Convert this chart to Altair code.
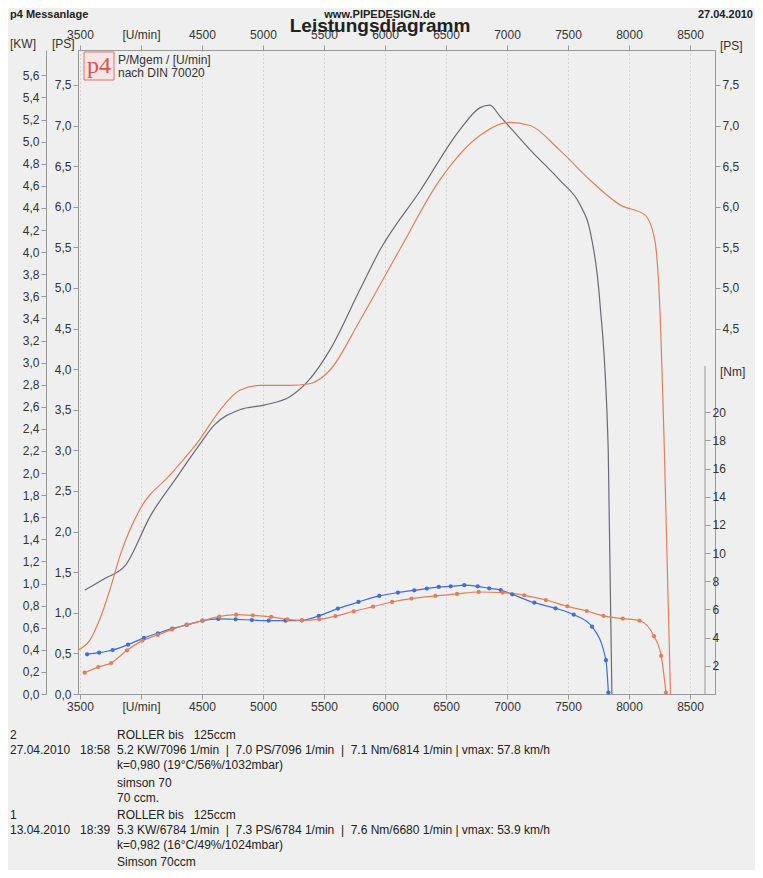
import altair as alt
import pandas as pd

# power curves (PS)
rpm_p1 = [3540, 3700, 3870, 4080, 4280, 4480, 4600, 4810, 5016, 5220, 5380, 5550, 5795, 5960, 6290, 6615,
          6780, 6860, 6940, 7190, 7430, 7600, 7680, 7760, 7830, 7860]
ps_p1 = [1.28, 1.42, 1.58, 2.2, 2.64, 3.07, 3.31, 3.5, 3.56, 3.66, 3.87, 4.24, 4.98, 5.47, 6.2, 6.95,
         7.22, 7.25, 7.12, 6.7, 6.33, 6.02, 5.71, 4.85, 3.0, 0.0]
rpm_p2 = [3484, 3580, 3660, 3745, 3830, 3990, 4240, 4480, 4650, 4810, 4975, 5220, 5380, 5550, 5795, 6120,
          6450, 6780, 7020, 7190, 7430, 7680, 7930, 8130, 8210, 8250, 8290, 8340]
ps_p2 = [0.54, 0.66, 0.91, 1.28, 1.71, 2.27, 2.7, 3.13, 3.5, 3.74, 3.8, 3.8, 3.82, 3.99, 4.6, 5.47,
         6.33, 6.88, 7.04, 7.0, 6.7, 6.33, 6.02, 5.9, 5.6, 4.85, 3.0, 0.0]

# torque curves (Nm)
rpm_t1 = [3559, 3657, 3768, 3894, 4024, 4138, 4256, 4374, 4504, 4634, 4776, 4909, 5047, 5185, 5319, 5457,
          5614, 5783, 5953, 6106, 6240, 6343, 6441, 6539, 6650, 6760, 6854, 6949, 7043, 7224, 7398, 7547,
          7697, 7811, 7831]
nm_t1 = [2.82, 2.93, 3.12, 3.5, 3.98, 4.31, 4.64, 4.9, 5.2, 5.33, 5.3, 5.25, 5.2, 5.2, 5.23, 5.54,
         6.06, 6.53, 6.96, 7.2, 7.36, 7.48, 7.6, 7.64, 7.72, 7.64, 7.5, 7.38, 7.07, 6.48, 6.08, 5.63,
         4.78, 2.4, 0.1]
rpm_t2 = [3539, 3650, 3756, 3886, 4012, 4138, 4256, 4378, 4504, 4642, 4780, 4917, 5067, 5201, 5319, 5461,
          5594, 5744, 5902, 6059, 6217, 6413, 6591, 6768, 6965, 7142, 7319, 7496, 7654, 7791, 7949, 8087,
          8205, 8264, 8303]
nm_t2 = [1.51, 1.91, 2.2, 3.1, 3.79, 4.19, 4.59, 4.92, 5.2, 5.49, 5.63, 5.58, 5.47, 5.3, 5.23, 5.3,
         5.52, 5.87, 6.2, 6.53, 6.77, 6.96, 7.1, 7.24, 7.2, 7.0, 6.67, 6.22, 5.89, 5.54, 5.35, 5.2,
         4.1, 2.7, 0.1]

ps_ticks = [i * 0.5 for i in range(16)]
kw_ticks = [round(i * 0.2, 1) for i in range(29)]
nm_ticks = list(range(2, 21, 2))
rpm_ticks = list(range(3500, 9000, 500))

GRAY, ORANGE, BLUE = "#6b6b78", "#e0805a", "#3d6fd6"
FONT = "Liberation Sans"
OX, OY = 78, 50  # page position of the plot's corner
W, H = 637, 644
XD = [3484, 8705]
comma = "replace(format(datum.value, '.1f'), '.', ',')"
rpm_lbl = "datum.value == 4000 ? '[U/min]' : datum.value"

power = pd.concat([
    pd.DataFrame({"rpm": rpm_p1, "ps": ps_p1, "run": "1"}),
    pd.DataFrame({"rpm": rpm_p2, "ps": ps_p2, "run": "2"}),
])
torque = pd.concat([
    pd.DataFrame({"rpm": rpm_t1, "nm": nm_t1, "run": "1"}),
    pd.DataFrame({"rpm": rpm_t2, "nm": nm_t2, "run": "2"}),
])
power["kw"] = power["ps"] * 0.7355

ax = dict(labelFont=FONT, labelFontSize=12, labelColor="#333", domainColor="#999",
          tickColor="#999")
xs = alt.Scale(domain=XD, nice=False, zero=False)
xb = alt.X("rpm:Q", scale=xs, title=None,
           axis=alt.Axis(orient="bottom", values=rpm_ticks, labelExpr=rpm_lbl, grid=True,
                         gridDash=[1, 3], gridColor="#bbb", **ax))
xt = alt.X("rpm:Q", scale=xs, title=None,
           axis=alt.Axis(orient="top", values=rpm_ticks, labelExpr=rpm_lbl, grid=False,
                         labelPadding=4, **ax))
xn = alt.X("rpm:Q", scale=xs, title=None, axis=None)
col = alt.Color("run:N", scale=alt.Scale(domain=["1", "2"], range=[GRAY, ORANGE]), legend=None)

p_lines = alt.Chart(power).mark_line(interpolate="monotone", strokeWidth=1.2).encode(
    x=xb,
    y=alt.Y("ps:Q", scale=alt.Scale(domain=[0, 7.93], nice=False), title=None,
            axis=alt.Axis(orient="left", values=ps_ticks, labelExpr=comma, grid=False, **ax)),
    color=col,
)
kw_axis = alt.Chart(power).mark_line(opacity=0).encode(
    x=xt,
    y=alt.Y("kw:Q", scale=alt.Scale(domain=[0, 5.83], nice=False), title=None,
            axis=alt.Axis(orient="left", values=kw_ticks, labelExpr=comma, offset=32, grid=False, **ax)),
    detail="run:N",
)
ps_right = alt.Chart(power).mark_line(opacity=0).encode(
    x=xn,
    y=alt.Y("ps:Q", scale=alt.Scale(domain=[0, 7.93], nice=False), title=None,
            axis=alt.Axis(orient="right", values=ps_ticks[9:], labelExpr=comma, grid=False, **ax)),
    detail="run:N",
)
tcol = alt.Color("run:N", scale=alt.Scale(domain=["1", "2"], range=[BLUE, ORANGE]), legend=None)
ty = alt.Y("nm:Q", scale=alt.Scale(domain=[0, 45.7], nice=False), title=None,
           axis=alt.Axis(orient="right", values=nm_ticks, offset=-10, domain=False, grid=False,
                         labelFont=FONT, labelFontSize=12, labelColor="#333", tickColor="#999"))
t_lines = alt.Chart(torque).mark_line(interpolate="monotone", strokeWidth=1.2,
                                      point=alt.OverlayMarkDef(size=18, filled=True)).encode(
    x=xn, y=ty, color=tcol)

# texts placed in page pixels
texts = [
    ("p4 Messanlage", 10, 15, 11, "bold", "left", "#222"),
    ("www.PIPEDESIGN.de", 380, 15, 11, "bold", "center", "#222"),
    ("27.04.2010", 753, 15, 11, "bold", "right", "#222"),
    ("Leistungsdiagramm", 380, 26, 19, "bold", "center", "#222"),
    ("[KW]", 10, 44, 12, "normal", "left", "#333"),
    ("[PS]", 52, 44, 12, "normal", "left", "#333"),
    ("[PS]", 720, 46, 12, "normal", "left", "#333"),
    ("[Nm]", 720, 372, 12, "normal", "left", "#333"),
    ("p4", 87, 66, 24, "normal", "left", "#d9534f"),
    ("P/Mgem / [U/min]", 118, 60, 12, "normal", "left", "#333"),
    ("nach DIN 70020", 118, 73, 12, "normal", "left", "#333"),
    ("2", 10, 735, 12, "normal", "left", "#222"),
    ("ROLLER bis\u00a0\u00a0\u00a0125ccm", 117, 735, 12, "normal", "left", "#222"),
    ("27.04.2010\u00a0\u00a0 18:58", 10, 750, 12, "normal", "left", "#222"),
    ("5.2 KW/7096 1/min\u00a0 |\u00a0 7.0 PS/7096 1/min\u00a0 |\u00a0 7.1 Nm/6814 1/min | vmax: 57.8 km/h", 117, 750, 12, "normal", "left", "#222"),
    ("k=0,980 (19°C/56%/1032mbar)", 117, 765, 12, "normal", "left", "#222"),
    ("simson 70", 117, 783, 12, "normal", "left", "#222"),
    ("70 ccm.", 117, 798, 12, "normal", "left", "#222"),
    ("1", 10, 815, 12, "normal", "left", "#222"),
    ("ROLLER bis\u00a0\u00a0\u00a0125ccm", 117, 815, 12, "normal", "left", "#222"),
    ("13.04.2010\u00a0\u00a0 18:39", 10, 830, 12, "normal", "left", "#222"),
    ("5.3 KW/6784 1/min\u00a0 |\u00a0 7.3 PS/6784 1/min\u00a0 |\u00a0 7.6 Nm/6680 1/min | vmax: 53.9 km/h", 117, 830, 12, "normal", "left", "#222"),
    ("k=0,982 (16°C/49%/1024mbar)", 117, 845, 12, "normal", "left", "#222"),
    ("Simson 70ccm", 117, 862, 12, "normal", "left", "#222"),
]
anno = [
    alt.Chart(pd.DataFrame({"t": [t]})).mark_text(
        font="Liberation Serif" if t == "p4" else FONT, fontSize=fs, fontWeight=fw, align=al,
        baseline="middle", color=c).encode(x=alt.value(x - OX), y=alt.value(y - OY), text="t:N")
    for t, x, y, fs, fw, al, c in texts
]
logo_box = alt.Chart(pd.DataFrame({"a": [0]})).mark_rect(
    fill="#f4e6e4", stroke="#d9534f", strokeWidth=0.8).encode(
    x=alt.value(84 - OX), x2=alt.value(114 - OX), y=alt.value(50 - OY + 2), y2=alt.value(80 - OY))
nm_line = alt.Chart(pd.DataFrame({"a": [0]})).mark_rule(color="#999").encode(
    x=alt.value(705 - OX), y=alt.value(366 - OY), y2=alt.value(H))

chart = alt.layer(p_lines, kw_axis, ps_right, t_lines, nm_line, logo_box, *anno).resolve_scale(
    x="independent", y="independent", color="independent"
).properties(
    width=W, height=H, background="#efefef",
    autosize=alt.AutoSizeParams(type="none"),
    padding={"left": OX - 8, "top": OY - 8, "right": 763 - 16 - (OX - 8) - W, "bottom": 878 - 16 - (OY - 8) - H},
).configure_view(stroke="#999")

chart.save("out.html", embed_options={"renderer": "svg", "actions": False})
